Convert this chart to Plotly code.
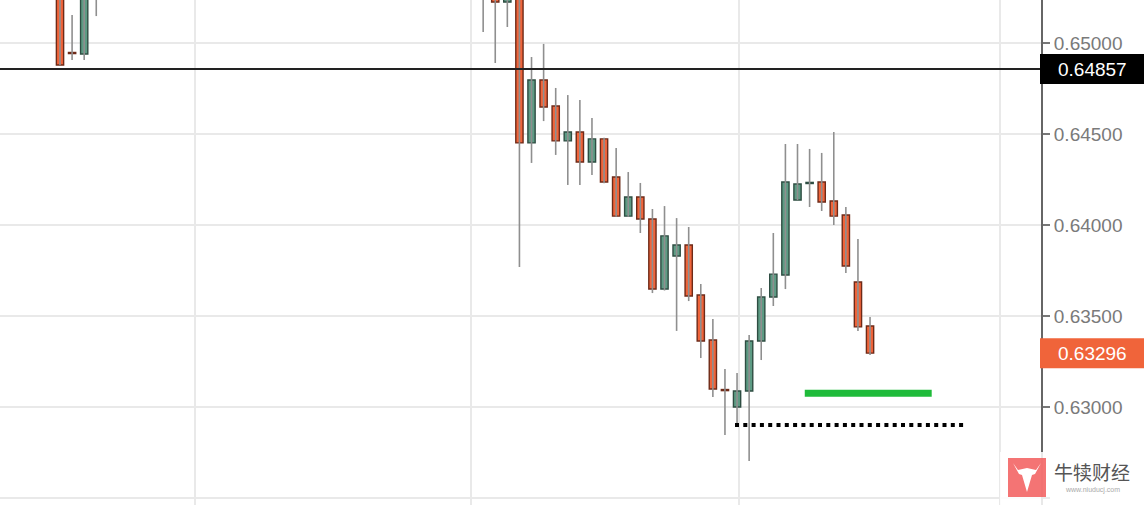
import plotly.graph_objects as go

# ---------------- data ----------------
idx = [0, 1, 2, 3,
       35, 36, 37, 38, 39, 40, 41, 42, 43, 44, 45, 46, 47, 48, 49, 50, 51,
       52, 53, 54, 55, 56, 57, 58, 59, 60, 61, 62, 63, 64, 65, 66, 67]
opens = [0.65350, 0.64948, 0.64940, 0.65320,
         0.65340, 0.65310, 0.65225, 0.65290, 0.64451, 0.64797, 0.64654, 0.64462,
         0.64511, 0.64346, 0.64473, 0.64264, 0.64049, 0.64154, 0.64033, 0.63648,
         0.63830, 0.63890, 0.63615, 0.63368, 0.63096, 0.63000, 0.63088, 0.63363,
         0.63604, 0.63725, 0.64137, 0.64228, 0.64236, 0.64132, 0.64055, 0.63687,
         0.63445]
highs = [0.65380, 0.65154, 0.65340, 0.65400,
         0.65400, 0.65340, 0.65330, 0.65320, 0.64923, 0.64995, 0.64753, 0.64714,
         0.64687, 0.64588, 0.64480, 0.64423, 0.64291, 0.64231, 0.64088, 0.64104,
         0.64038, 0.63989, 0.63676, 0.63484, 0.63209, 0.63187, 0.63396, 0.63654,
         0.63956, 0.64445, 0.64445, 0.64418, 0.64396, 0.64511, 0.64099, 0.63923,
         0.63495]
lows = [0.64879, 0.64907, 0.64907, 0.65148,
        0.65060, 0.64890, 0.65088, 0.63769, 0.64341, 0.64571, 0.64385, 0.64220,
        0.64220, 0.64275, 0.64230, 0.64045, 0.64045, 0.63956, 0.63626, 0.63640,
        0.63418, 0.63582, 0.63269, 0.63055, 0.62846, 0.62910, 0.62703, 0.63258,
        0.63555, 0.63648, 0.64137, 0.64099, 0.64077, 0.64000, 0.63736, 0.63418,
        0.63286]
closes = [0.64879, 0.64942, 0.65300, 0.65360,
          0.65280, 0.65225, 0.65300, 0.64451, 0.64797, 0.64648, 0.64462, 0.64511,
          0.64346, 0.64473, 0.64236, 0.64049, 0.64154, 0.64033, 0.63648, 0.63940,
          0.63890, 0.63610, 0.63363, 0.63099, 0.63090, 0.63088, 0.63363, 0.63604,
          0.63730, 0.64236, 0.64225, 0.64234, 0.64126, 0.64049, 0.63775, 0.63440,
          0.63296]

y_ticks = [0.625, 0.630, 0.635, 0.640, 0.645, 0.650]
y_tick_text = ["0.62500", "0.63000", "0.63500", "0.64000", "0.64500", "0.65000"]
x_grid = [11.17, 34.0, 56.16, 77.75]

ref_price = 0.64857
ref_text = "0.64857"
last_price = 0.63296
last_text = "0.63296"

green_level = 0.63075
green_span = [61.6, 72.1]
dotted_level = 0.62901
dotted_span = [55.83, 74.86]

watermark_cn = "牛犊财经"
watermark_url = "www.niuducj.com"

# ---------------- styling ----------------
W, H = 1144, 505
R_MARGIN = 103
PW = W - R_MARGIN
X_RANGE = [-4.963, 81.14]
Y_RANGE = [0.624615, 0.652363]

UP_FILL, UP_LINE = "#5d9b84", "#2e4d42"
DN_FILL, DN_LINE = "#f0643a", "#6e2a18"
WICK = "#8f8f8f"


def px(x):
    return x / PW


def py(y):
    return 1 - y / H


fig = go.Figure()

# wicks
wx, wy = [], []
for i, h, l in zip(idx, highs, lows):
    wx += [i, i, None]
    wy += [l, h, None]
fig.add_trace(go.Scatter(x=wx, y=wy, mode="lines",
                         line=dict(color=WICK, width=1.6),
                         hoverinfo="skip", showlegend=False))

# bodies
up = [c >= o for o, c in zip(opens, closes)]
base = [min(o, c) for o, c in zip(opens, closes)]
height = [max(abs(c - o), 0.00004) for o, c in zip(opens, closes)]
fig.add_trace(go.Bar(
    x=idx, y=height, base=base, width=0.6,
    marker=dict(color=[UP_FILL if u else DN_FILL for u in up],
                line=dict(color=[UP_LINE if u else DN_LINE for u in up], width=1.4)),
    hoverinfo="skip", showlegend=False))

# green level line
fig.add_trace(go.Scatter(x=green_span, y=[green_level] * 2, mode="lines",
                         line=dict(color="#1fbb3a", width=7),
                         hoverinfo="skip", showlegend=False))
# dotted level line
fig.add_trace(go.Scatter(x=dotted_span, y=[dotted_level] * 2, mode="lines",
                         line=dict(color="#000000", width=4, dash="4px,4.3px"),
                         hoverinfo="skip", showlegend=False))

shapes = []
# reference horizontal price line
shapes.append(dict(type="line", xref="paper", yref="y", x0=0, x1=1,
                   y0=ref_price, y1=ref_price, line=dict(color="#222222", width=2)))
# price label boxes
half = 15 * (Y_RANGE[1] - Y_RANGE[0]) / H
shapes.append(dict(type="rect", xref="paper", yref="y", x0=px(1040), x1=px(W),
                   y0=ref_price - half, y1=ref_price + half,
                   fillcolor="#000000", line=dict(width=0), layer="above"))
shapes.append(dict(type="rect", xref="paper", yref="y", x0=px(1040), x1=px(W),
                   y0=last_price - half, y1=last_price + half,
                   fillcolor="#f0643a", line=dict(width=0), layer="above"))
# watermark background
shapes.append(dict(type="rect", xref="paper", yref="paper", x0=px(1000), x1=px(W),
                   y0=py(H), y1=py(452), fillcolor="rgba(255,255,255,0.85)",
                   line=dict(width=0), layer="above"))
# watermark logo
shapes.append(dict(type="rect", xref="paper", yref="paper", x0=px(1008), x1=px(1046),
                   y0=py(497), y1=py(458), fillcolor="rgba(242,92,92,0.85)",
                   line=dict(width=0), layer="above"))
bull = [(1013, 463), (1019, 474), (1022, 475), (1027, 492), (1032, 475),
        (1035, 474), (1041, 463), (1036, 470), (1027, 468), (1018, 470)]
path = "M " + " L ".join(f"{px(a):.5f},{py(b):.5f}" for a, b in bull) + " Z"
shapes.append(dict(type="path", xref="paper", yref="paper", path=path,
                   fillcolor="#ffffff", line=dict(width=0), layer="above"))

annotations = [
    dict(xref="paper", yref="y", x=px(1092), y=ref_price, text=ref_text,
         showarrow=False, xanchor="center", yanchor="middle",
         font=dict(family="Liberation Sans, Arial", size=19, color="#ffffff")),
    dict(xref="paper", yref="y", x=px(1092), y=last_price, text=last_text,
         showarrow=False, xanchor="center", yanchor="middle",
         font=dict(family="Liberation Sans, Arial", size=19, color="#ffffff")),
    dict(xref="paper", yref="paper", x=px(1092), y=py(471), text=watermark_cn,
         showarrow=False, xanchor="center", yanchor="middle",
         font=dict(family="Noto Sans CJK SC", size=19, color="#555555")),
    dict(xref="paper", yref="paper", x=px(1092), y=py(490), text=watermark_url,
         showarrow=False, xanchor="center", yanchor="middle",
         font=dict(family="Liberation Sans, Arial", size=7, color="#aaaaaa")),
]

fig.update_layout(
    width=W, height=H,
    margin=dict(l=0, r=R_MARGIN, t=0, b=0, pad=0, autoexpand=False),
    paper_bgcolor="#ffffff", plot_bgcolor="#ffffff",
    barmode="overlay", showlegend=False, hovermode=False,
    shapes=shapes, annotations=annotations,
    xaxis=dict(range=X_RANGE, tickvals=x_grid, showticklabels=False,
               showgrid=True, gridcolor="#e9e9e9", gridwidth=1.5,
               zeroline=False, showline=False, ticks="", automargin=False),
    yaxis=dict(range=Y_RANGE, side="right", tickvals=y_ticks, ticktext=y_tick_text,
               showgrid=True, gridcolor="#e9e9e9", gridwidth=1.5, zeroline=False,
               showline=True, linecolor="#666666", linewidth=2, automargin=False,
               ticks="outside", ticklen=7, tickcolor="#777777", tickwidth=1.5,
               tickfont=dict(family="Liberation Sans, Arial", size=19, color="#7a7a7a")),
)

fig.write_html("out.html", config={"displayModeBar": False},
               post_script="document.body.style.margin='0';document.body.style.overflow='hidden';")
